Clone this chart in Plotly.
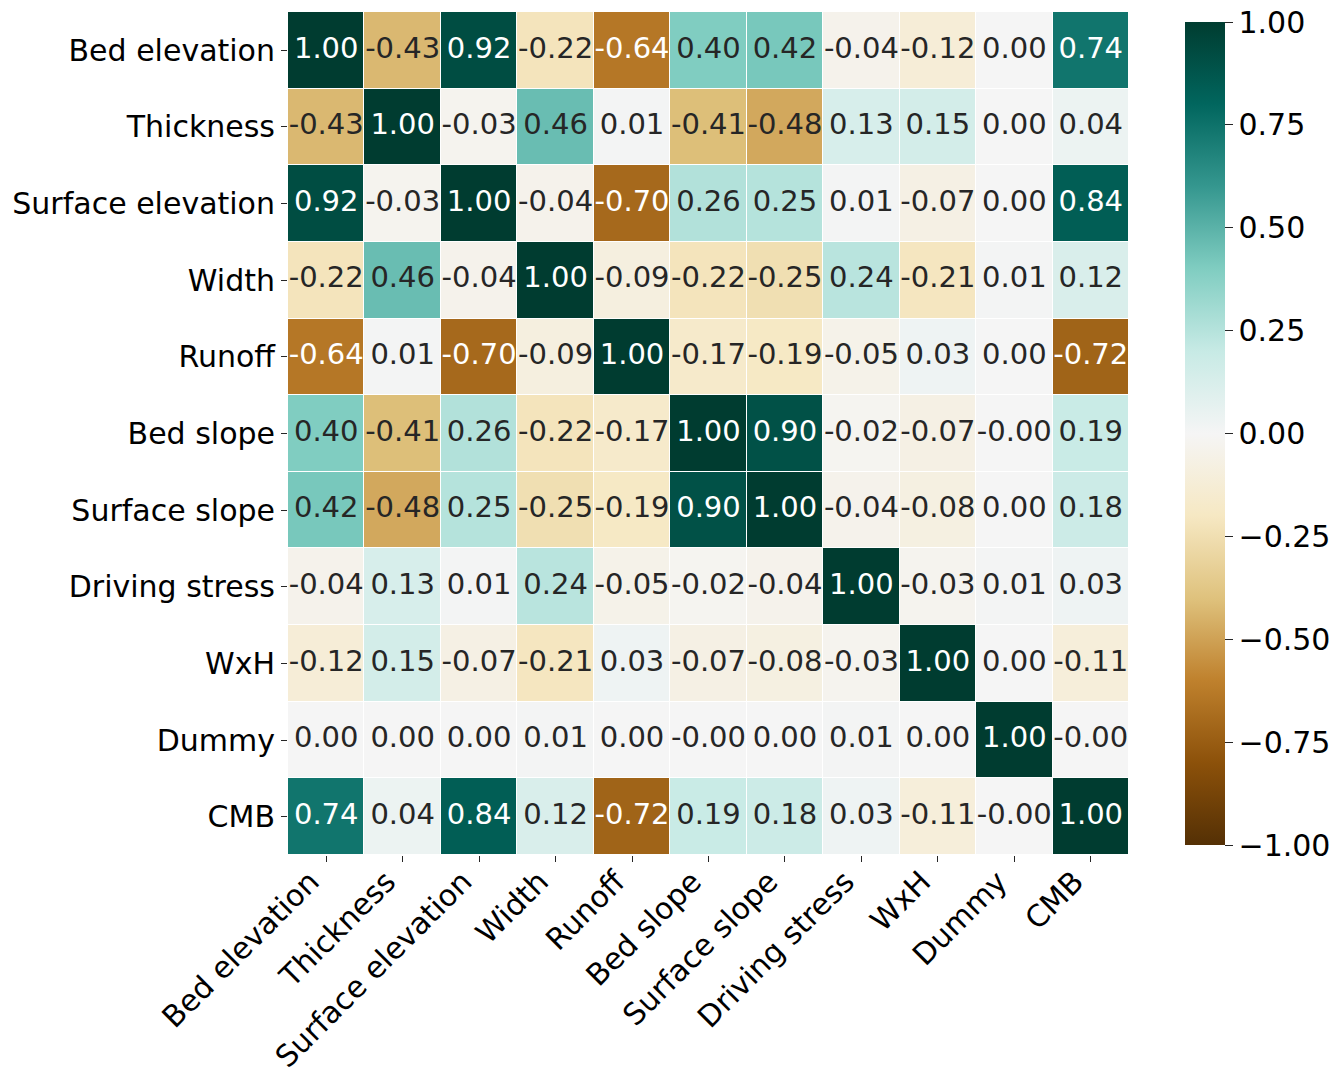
import plotly.graph_objects as go
import plotly.colors as pc

# Variable names (rows top to bottom, columns left to right)
variables = [
    "Bed elevation", "Thickness", "Surface elevation", "Width", "Runoff",
    "Bed slope", "Surface slope", "Driving stress", "WxH", "Dummy", "CMB",
]

# Pairwise correlation coefficients, one list per row
bed_elevation     = [1.00, -0.43, 0.92, -0.22, -0.64, 0.40, 0.42, -0.04, -0.12, 0.00, 0.74]
thickness         = [-0.43, 1.00, -0.03, 0.46, 0.01, -0.41, -0.48, 0.13, 0.15, 0.00, 0.04]
surface_elevation = [0.92, -0.03, 1.00, -0.04, -0.70, 0.26, 0.25, 0.01, -0.07, 0.00, 0.84]
width             = [-0.22, 0.46, -0.04, 1.00, -0.09, -0.22, -0.25, 0.24, -0.21, 0.01, 0.12]
runoff            = [-0.64, 0.01, -0.70, -0.09, 1.00, -0.17, -0.19, -0.05, 0.03, 0.00, -0.72]
bed_slope         = [0.40, -0.41, 0.26, -0.22, -0.17, 1.00, 0.90, -0.02, -0.07, -0.00, 0.19]
surface_slope     = [0.42, -0.48, 0.25, -0.25, -0.19, 0.90, 1.00, -0.04, -0.08, 0.00, 0.18]
driving_stress    = [-0.04, 0.13, 0.01, 0.24, -0.05, -0.02, -0.04, 1.00, -0.03, 0.01, 0.03]
wxh               = [-0.12, 0.15, -0.07, -0.21, 0.03, -0.07, -0.08, -0.03, 1.00, 0.00, -0.11]
dummy             = [0.00, 0.00, 0.00, 0.01, 0.00, -0.00, 0.00, 0.01, 0.00, 1.00, -0.00]
cmb               = [0.74, 0.04, 0.84, 0.12, -0.72, 0.19, 0.18, 0.03, -0.11, -0.00, 1.00]

corr = [
    bed_elevation, thickness, surface_elevation, width, runoff,
    bed_slope, surface_slope, driving_stress, wxh, dummy, cmb,
]

colorbar_ticks = [-1.00, -0.75, -0.50, -0.25, 0.00, 0.25, 0.50, 0.75, 1.00]

FONT = "DejaVu Sans"
TICK_SIZE = 30
CELL_SIZE = 29
brbg = pc.diverging.BrBG
n = len(variables)

fig = go.Figure()

fig.add_trace(go.Heatmap(
    z=corr,
    x=variables,
    y=variables,
    zmin=-1, zmax=1,
    colorscale=brbg,
    xgap=1, ygap=1,
    hoverinfo="skip",
    colorbar=dict(
        thickness=40,
        len=823 / 843,
        lenmode="fraction",
        x=(1185 - 288) / 842,
        xanchor="left",
        xpad=0,
        y=0.5,
        yanchor="middle",
        ypad=0,
        outlinewidth=0,
        tickvals=colorbar_ticks,
        tickformat=".2f",
        ticks="outside",
        ticklen=8,
        tickwidth=1,
        tickcolor="#262626",
        tickfont=dict(family=FONT, size=TICK_SIZE, color="black"),
    ),
))

# Cell annotations: value text, white on the darker cells
xs, ys, labels, colors = [], [], [], []
for i, row_name in enumerate(variables):
    for j, col_name in enumerate(variables):
        v = corr[i][j]
        xs.append(col_name)
        ys.append(row_name)
        labels.append(f"{v:.2f}")
        colors.append("white" if abs(v) > 0.6 else "#262626")

fig.add_trace(go.Scatter(
    x=xs, y=ys,
    mode="text",
    text=labels,
    textposition="middle center",
    textfont=dict(family=FONT, size=CELL_SIZE, color=colors),
    hoverinfo="skip",
    showlegend=False,
))

fig.update_layout(
    width=1342, height=1069,
    margin=dict(l=288, r=212, t=12, b=214),
    paper_bgcolor="white",
    plot_bgcolor="white",
    font=dict(family=FONT, size=TICK_SIZE, color="black"),
    showlegend=False,
)
fig.update_xaxes(
    automargin=False,
    range=[-0.5, n - 0.5],
    tickangle=-45,
    ticklabelshift=-16,
    ticklabelstandoff=-10,
    ticks="outside", ticklen=6, tickwidth=1, tickcolor="#262626",
    tickfont=dict(family=FONT, size=TICK_SIZE, color="black"),
    showgrid=False, zeroline=False, showline=False,
)
fig.update_yaxes(
    automargin=False,
    range=[n - 0.5, -0.5],
    ticks="outside", ticklen=6, tickwidth=1, tickcolor="#262626",
    tickfont=dict(family=FONT, size=TICK_SIZE, color="black"),
    showgrid=False, zeroline=False, showline=False,
)

fig.write_html("out.html")
